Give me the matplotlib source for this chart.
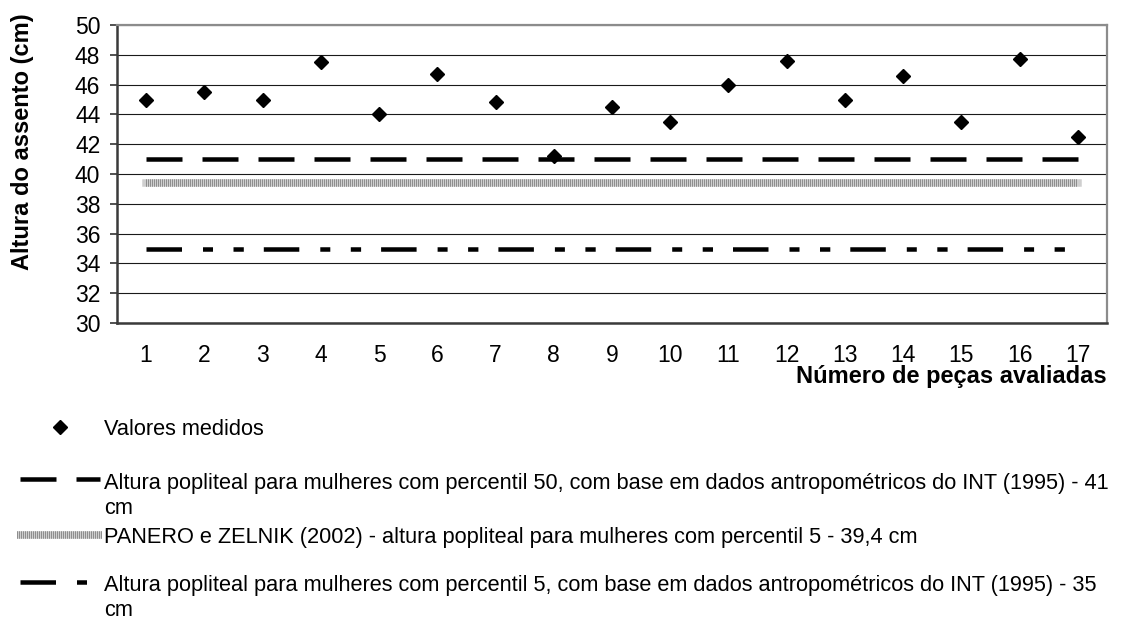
import matplotlib
matplotlib.use("Agg")
import matplotlib.pyplot as plt
from matplotlib.lines import Line2D

plt.rcParams['font.family'] = ['Liberation Sans', 'DejaVu Sans']
plt.rcParams['lines.scale_dashes'] = False

# ---- data -------------------------------------------------------------
pecas = list(range(1, 18))
valores_medidos = [45.0, 45.5, 45.0, 47.5, 44.0, 46.7, 44.8, 41.2, 44.5,
                   43.5, 46.0, 47.6, 45.0, 46.6, 43.5, 47.7, 42.5]
ref_int_p50 = 41.0       # INT (1995), percentil 50
ref_panero_p5 = 39.4     # PANERO e ZELNIK (2002), percentil 5
ref_int_p5 = 35.0        # INT (1995), percentil 5

y_ticks = list(range(30, 51, 2))
y_label = "Altura do assento (cm)"
x_label = "Número de peças avaliadas"
legend_labels = [
    "Valores medidos",
    "Altura popliteal para mulheres com percentil 50, com base em dados "
    "antropométricos do INT (1995) - 41\ncm",
    "PANERO e ZELNIK (2002) - altura popliteal para mulheres com percentil 5 - 39,4 cm",
    "Altura popliteal para mulheres com percentil 5, com base em dados "
    "antropométricos do INT (1995) - 35\ncm",
]

# ---- styles -----------------------------------------------------------
W, H = 1127, 630
PX = 0.72  # points per pixel at 100 dpi
dash_p50 = (0, (36 * PX, 20 * PX))
dash_p5 = (0, (35.5 * PX, 21 * PX, 10 * PX, 20.5 * PX, 10.3 * PX, 20 * PX))
black_lw = 4.5 * PX
gray_lw = 7.5 * PX
gray_base = '#cfcfcf'
gray_stripe = '#8e8e8e'
stripe = (0, (1 * PX, 1 * PX))

fig = plt.figure(figsize=(W / 100, H / 100), dpi=100)


def fx(px):
    return px / W


def fy(py):
    return 1 - py / H


left, right, top, bottom = 117, 1107, 25, 323
ax = fig.add_axes([fx(left), fy(bottom), fx(right - left), (bottom - top) / H])

x0, x1 = pecas[0], pecas[-1]
ax.plot([x0, x1], [ref_int_p50] * 2, color='black', lw=black_lw,
        linestyle=dash_p50, dash_capstyle='butt', zorder=3)
ax.plot([x0, x1], [ref_panero_p5] * 2, color=gray_base, lw=gray_lw,
        solid_capstyle='projecting', zorder=3)
ax.plot([x0, x1], [ref_panero_p5] * 2, color=gray_stripe, lw=gray_lw,
        linestyle=stripe, dash_capstyle='butt', zorder=3)
ax.plot([x0, x1], [ref_int_p5] * 2, color='black', lw=black_lw,
        linestyle=dash_p5, dash_capstyle='butt', zorder=3)
ax.plot(pecas, valores_medidos, linestyle='none', marker='D', ms=7.6,
        color='black', zorder=4)

ax.set_xlim(0.5, len(pecas) + 0.5)
ax.set_ylim(y_ticks[0], y_ticks[-1])
ax.set_yticks(y_ticks)
ax.set_xticks(pecas)
ax.set_xticklabels([str(p) for p in pecas])
ax.yaxis.grid(True, color='#1a1a1a', lw=0.8)
ax.set_axisbelow(True)

ax.tick_params(axis='x', length=0, pad=15, labelsize=16.5)
ax.tick_params(axis='y', direction='out', length=5, width=1.2, pad=7,
               labelsize=16.5, color='#333333')
for side in ('top', 'right'):
    ax.spines[side].set_color('#8c8c8c')
    ax.spines[side].set_linewidth(1.6)
for side in ('left', 'bottom'):
    ax.spines[side].set_color('#3a3a3a')
    ax.spines[side].set_linewidth(1.8)

fig.text(fx(23), fy(142), y_label, rotation=90, ha='center', va='center',
         fontsize=17, fontweight='bold')
fig.text(fx(1107), fy(383), x_label, ha='right', va='baseline',
         fontsize=17, fontweight='bold')

# ---- legend -----------------------------------------------------------
leg_fs = 15.7
text_x = 104
line_gap = 24.5


def legend_text(label, baseline):
    for i, line in enumerate(label.split('\n')):
        fig.text(fx(text_x), fy(baseline + i * line_gap), line, ha='left',
                 va='baseline', fontsize=leg_fs)


fig.add_artist(Line2D([fx(60)], [fy(427)], marker='D', ms=7.6, color='black',
                      linestyle='none', transform=fig.transFigure))
legend_text(legend_labels[0], 435)

fig.add_artist(Line2D([fx(20), fx(100)], [fy(479)] * 2, color='black',
                      lw=black_lw, linestyle=dash_p50, dash_capstyle='butt',
                      transform=fig.transFigure))
legend_text(legend_labels[1], 489)

fig.add_artist(Line2D([fx(17), fx(102)], [fy(535)] * 2, color=gray_base,
                      lw=gray_lw, solid_capstyle='butt', transform=fig.transFigure))
fig.add_artist(Line2D([fx(17), fx(102)], [fy(535)] * 2, color=gray_stripe,
                      lw=gray_lw, linestyle=stripe, dash_capstyle='butt',
                      transform=fig.transFigure))
legend_text(legend_labels[2], 543)

fig.add_artist(Line2D([fx(20), fx(100)], [fy(582)] * 2, color='black',
                      lw=black_lw, linestyle=dash_p5, dash_capstyle='butt',
                      transform=fig.transFigure))
legend_text(legend_labels[3], 591)

fig.savefig('out.png', dpi=100, facecolor='white')
